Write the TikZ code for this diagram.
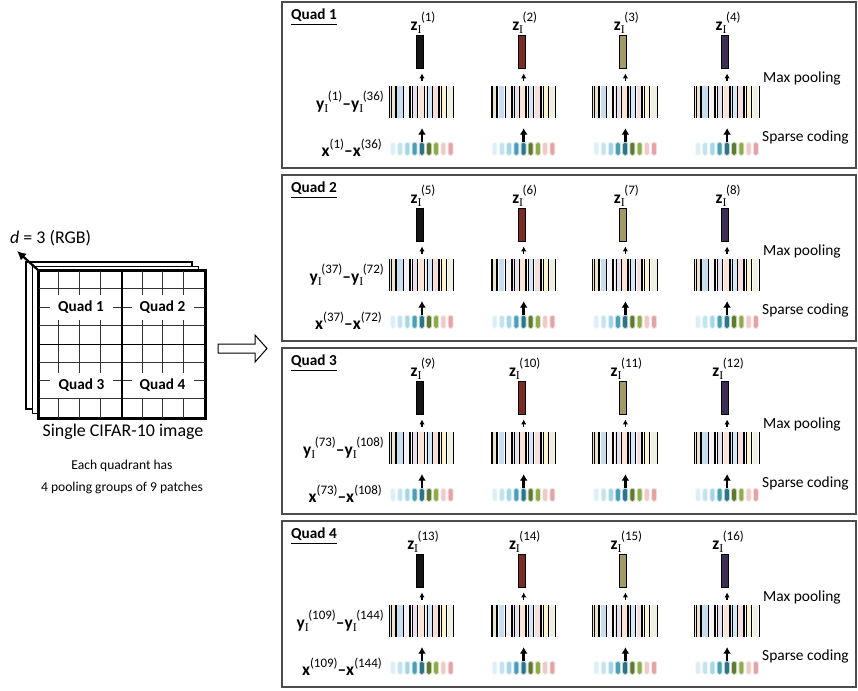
\documentclass[tikz,border=0pt]{standalone}
\usepackage{amsmath}
\usepackage{fontspec}
\setmainfont{Carlito}
\newfontfamily\serifI{Liberation Serif}
\usepackage{tikz}
\usetikzlibrary{arrows.meta,calc}

\definecolor{zc1}{HTML}{151515}
\definecolor{zc2}{HTML}{7A2B25}
\definecolor{zc3}{HTML}{A29A66}
\definecolor{zc4}{HTML}{3B2D55}
\definecolor{yc1}{HTML}{EAE4D0}
\definecolor{yc2}{HTML}{C9DDF0}
\definecolor{yc3}{HTML}{F4F4F4}
\definecolor{yc4}{HTML}{E9E2EE}
\definecolor{yc5}{HTML}{FBE3D6}
\definecolor{yc6}{HTML}{D5E6F5}
\definecolor{yc7}{HTML}{F6DEDE}
\definecolor{yc8}{HTML}{FBF6CF}
\definecolor{yc9}{HTML}{EEF0E2}
\definecolor{xc1}{HTML}{DCEFF6}
\definecolor{xc2}{HTML}{C3E4EF}
\definecolor{xc3}{HTML}{A6D5E5}
\definecolor{xc4}{HTML}{4C9EB6}
\definecolor{xc5}{HTML}{2C7488}
\definecolor{xc6}{HTML}{5F7A30}
\definecolor{xc7}{HTML}{8EAC4C}
\definecolor{xc8}{HTML}{F0C9C9}
\definecolor{xc9}{HTML}{E2A4A4}

% bold vector, serif subscript I, superscript index
\newcommand{\subI}{\raisebox{-3bp}{\fontsize{12}{14}\selectfont\serifI I}}
\newcommand{\supidx}[1]{\raisebox{8.5bp}{\fontsize{13}{15}\selectfont(#1)}}
\newcommand{\zsym}[1]{\textbf{z}\subI\kern-0.5bp\supidx{#1}}
\newcommand{\ysym}[1]{\textbf{y}\subI\kern-0.5bp\supidx{#1}}
\newcommand{\xsym}[1]{\textbf{x}\supidx{#1}}

\begin{document}
\begin{tikzpicture}[x=1bp,y=-1bp,>=Latex,
  panel/.style={draw=black!70, line width=1.3bp, minimum width=574bp, minimum height=166bp, inner sep=0},
  zbar/.style={draw=black, line width=0.9bp, minimum width=7bp, minimum height=33bp, inner sep=0},
  yblock/.style={minimum width=65bp, minimum height=32bp, inner sep=0},
  xrow/.style={minimum width=65bp, minimum height=12bp, inner sep=0},
  veclab/.style={font=\fontsize{17.5}{20}\selectfont, inner sep=1bp},
  steplab/.style={font=\fontsize{15.5}{18}\selectfont, anchor=west, inner sep=0},
  quadlab/.style={font=\fontsize{15.3}{18}\selectfont\bfseries, inner sep=0},
  smallarrow/.style={-{Latex[length=5bp,width=5.5bp]}, line width=1.3bp, shorten <=5bp, shorten >=5bp},
  bigarrow/.style={-{Latex[length=6.5bp,width=8bp]}, line width=2.6bp, shorten <=1bp, shorten >=10bp},
  layer/.style={draw=black, fill=white, line width=1.6bp},
  gridline/.style={draw=black!80, line width=0.9bp},
  thickline/.style={draw=black, line width=1.9bp}]
\useasboundingbox (0,0) rectangle (858,691);

% the image and its quadrants
\draw[layer] (26,262) rectangle ++(166,147);
\draw[layer] (32.5,266.5) rectangle ++(166,147);
\node[layer, minimum width=166bp, minimum height=147bp, inner sep=0] (img) at (122,344.5) {};
\foreach \k in {1,2,3,5,6,7}{
  \draw[gridline] ($(img.north west)+(\k*20.75,0)$) -- ($(img.south west)+(\k*20.75,0)$);
  \draw[gridline] ($(img.north west)+(0,\k*18.375)$) -- ($(img.north east)+(0,\k*18.375)$);
}
\draw[thickline] (img.north) -- (img.south);
\draw[thickline] (img.west) -- (img.east);
\draw[thickline] (img.north west) rectangle (img.south east);
\node[quadlab, fill=white, minimum width=63bp, minimum height=25bp] (iq1) at (81,307.5) {Quad 1};
\node[quadlab, fill=white, minimum width=62bp, minimum height=25bp] (iq2) at (162.5,307.5) {Quad 2};
\node[quadlab, fill=white, minimum width=63bp, minimum height=25bp] (iq3) at (81.5,385.5) {Quad 3};
\node[quadlab, fill=white, minimum width=62bp, minimum height=25bp] (iq4) at (162.5,385.5) {Quad 4};

\coordinate (dtip) at (17,251);
\draw[-{Latex[length=9bp,width=9bp]}, line width=2.2bp] (img.north west) -- (dtip);
\node[font=\fontsize{18}{21}\selectfont, anchor=west, inner sep=0] (dlab) at (10,238) {\textit{d} = 3 (RGB)};
\node[font=\fontsize{18}{21}\selectfont, inner sep=0] (imglab) at (123,432) {Single CIFAR-10 image};
\node[font=\fontsize{13.6}{22}\selectfont, align=center, inner sep=0] (note) at (122,477) {Each quadrant has\\4 pooling groups of 9 patches};

% hollow arrow
\draw[fill=white, line width=1bp] (218,344) -- (255,344) -- (255,335) -- (267,348.5) -- (255,362) -- (255,353) -- (218,353) -- cycle;

% one panel per quadrant
\foreach \q in {1,...,4}{
  \pgfmathsetmacro\ptop{2+(\q-1)*173}
  \pgfmathtruncatemacro\ya{36*(\q-1)+1}
  \pgfmathtruncatemacro\yb{36*\q}
  \node[panel] (panel-\q) at (569,\ptop+83) {};
  \node[quadlab, anchor=west] (ql-\q) at (291,\ptop+15) {\underline{Quad \q}};
  \node[steplab] (mp-\q) at (763,\ptop+76) {Max pooling};
  \node[steplab] (sc-\q) at (762,\ptop+135) {Sparse coding};
  \node[veclab, anchor=east] (yl-\q) at (385,\ptop+100) {\ysym{\ya}\textbf{--}\ysym{\yb}};
  \node[veclab, anchor=east] (xl-\q) at (383,\ptop+146) {\xsym{\ya}\textbf{--}\xsym{\yb}};
  \foreach \g in {1,...,4}{
    \pgfmathsetmacro\gx{422+(\g-1)*101.7}
    \pgfmathtruncatemacro\zi{4*(\q-1)+\g}
    \node[zbar, fill=zc\g] (z-\q-\g) at (\gx-2,\ptop+49.5) {};
    \node[veclab, anchor=south, xshift=3bp] (zl-\q-\g) at (z-\q-\g.north) {\zsym{\zi}};
    \node[yblock] (y-\q-\g) at (\gx,\ptop+100) {};
    \foreach \k/\c/\w in {0/yc1/1.8, 1/yc2/0.9, 2/yc3/1.9, 3/yc4/1.0, 4/yc5/1.9, 5/yc6/1.0, 6/yc7/1.8, 7/yc8/1.0, 8/yc9/0.9}{
      \fill[fill=\c] ($(y-\q-\g.north west)+(\k*7.222+0.6,0)$) rectangle ++(5.6,32);
      \draw[line width=\w bp] ($(y-\q-\g.north west)+(\k*7.222+7.222-\w/2,0)$) -- ++(0,32);
    }
    \foreach \k in {0,3,5,7}{
      \draw[line width=0.8bp] ($(y-\q-\g.north west)+(\k*7.222+1.6,0)$) -- ++(0,32);
    }
    \draw[line width=0.8bp] (y-\q-\g.north west) -- (y-\q-\g.south west);
    \node[xrow] (x-\q-\g) at (\gx,\ptop+147) {};
    \foreach \k/\c in {1/xc1, 2/xc2, 3/xc3, 4/xc4, 5/xc5, 6/xc6, 7/xc7, 8/xc8, 9/xc9}{
      \fill[fill=\c, opacity=.3, rounded corners=2.5bp] ($(x-\q-\g.north west)+(\k*7.222-3.611-3,-1)$) rectangle ++(6,14);
      \fill[fill=\c, rounded corners=1.5bp] ($(x-\q-\g.north west)+(\k*7.222-3.611-2,0)$) rectangle ++(4,12);
    }
    \draw[smallarrow] (y-\q-\g.north) -- (y-\q-\g.north |- z-\q-\g.south);
    \draw[bigarrow] (x-\q-\g.north) -- (y-\q-\g.south);
  }
}
\end{tikzpicture}
\end{document}
